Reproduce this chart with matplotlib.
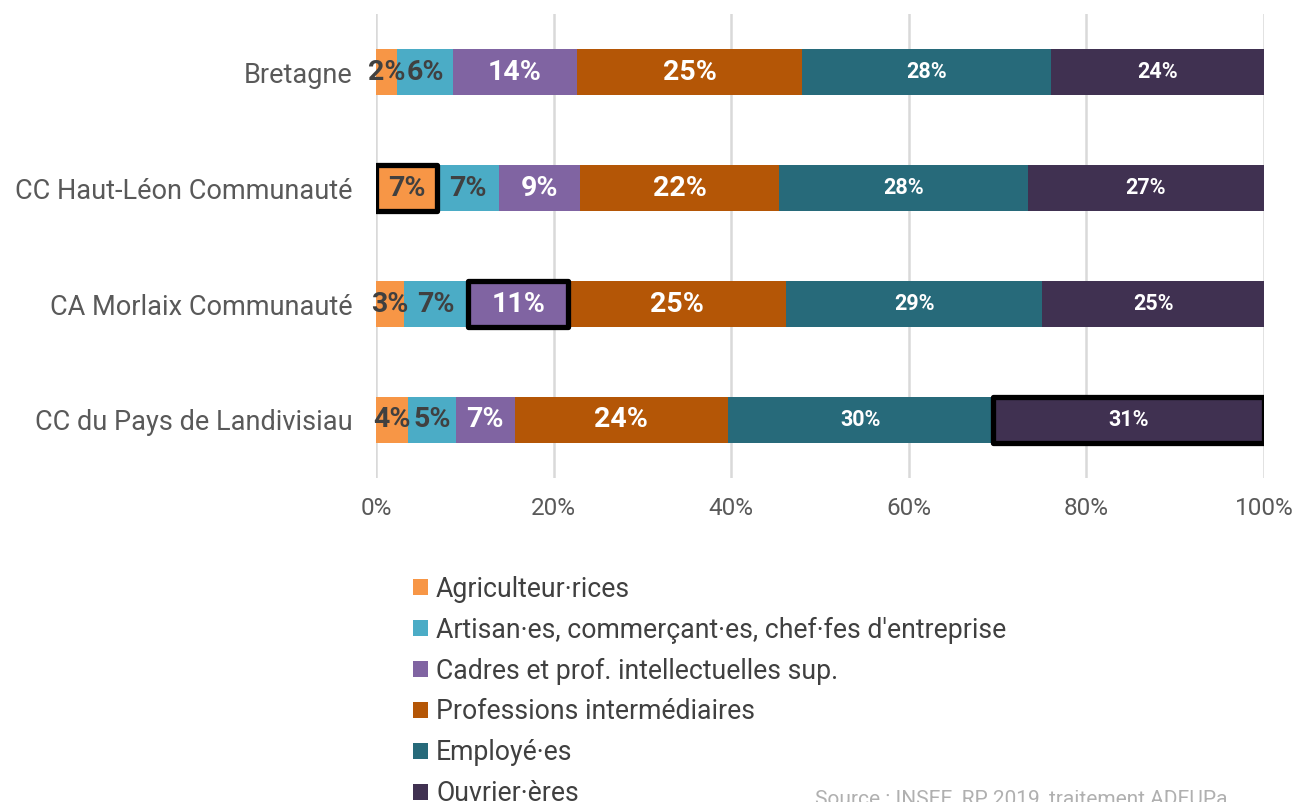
import matplotlib.pyplot as plt

plt.rcParams['font.family'] = ['Roboto', 'DejaVu Sans']

territoires = ['Bretagne', 'CC Haut-Léon Communauté', 'CA Morlaix Communauté',
               'CC du Pays de Landivisiau']
categories = ['Agriculteur·rices',
              'Artisan·es, commerçant·es, chef·fes d\'entreprise',
              'Cadres et prof. intellectuelles sup.',
              'Professions intermédiaires',
              'Employé·es',
              'Ouvrier·ères']
# parts en %, une liste par catégorie (ordre des territoires)
agriculteurs = [2.4, 6.9, 3.1, 3.6]
artisans = [6.3, 6.9, 7.3, 5.4]
cadres = [13.9, 9.2, 11.2, 6.6]
prof_inter = [25.4, 22.4, 24.6, 24.0]
employes = [28.0, 28.0, 28.8, 29.9]
ouvriers = [24.0, 26.6, 25.1, 30.51]
series = [agriculteurs, artisans, cadres, prof_inter, employes, ouvriers]

couleurs = ['#F79646', '#4BACC6', '#8064A2', '#B45606', '#276A7A', '#403151']
couleurs_texte = ['#404040', '#404040', 'white', 'white', 'white', 'white']
tailles_texte = [20.5, 20.5, 20.5, 20.5, 15.5, 15.5]
# segments encadrés (territoire, catégorie)
encadres = [(1, 0), (2, 2), (3, 5)]

fig = plt.figure(figsize=(12.97, 8.02), dpi=100)
ax = fig.add_axes([0.29, 0.404, 0.6846, 0.5785])

y = list(range(len(territoires)))
gauche = [0.0] * len(territoires)
for i, vals in enumerate(series):
    bars = ax.barh(y, vals, left=gauche, height=0.4, color=couleurs[i],
                   label=categories[i], zorder=2)
    for j, v in enumerate(vals):
        if (j, i) in encadres:
            bars[j].set_edgecolor('black')
            bars[j].set_linewidth(3.8)
            bars[j].set_joinstyle('round')
            bars[j].set_zorder(3)
        ax.text(gauche[j] + v / 2, j, f'{round(v)}%', ha='center', va='center',
                color=couleurs_texte[i], fontsize=tailles_texte[i],
                fontweight='bold', zorder=4)
    gauche = [g + v for g, v in zip(gauche, vals)]

ax.set_xlim(0, 100)
ax.set_ylim(3.5, -0.5)
ax.set_yticks(y)
ax.set_yticklabels(territoires, fontsize=19.5, color='#595959')
ax.set_xticks([0, 20, 40, 60, 80, 100])
ax.set_xticklabels(['0%', '20%', '40%', '60%', '80%', '100%'], fontsize=17.5,
                   color='#595959')
ax.tick_params(axis='y', length=0, pad=17)
ax.tick_params(axis='x', length=0, pad=14)
ax.grid(axis='x', color='#D9D9D9', linewidth=1.8, zorder=0)
for s in ax.spines.values():
    s.set_visible(False)

handles, labels = ax.get_legend_handles_labels()
fig.legend(handles, labels, loc='upper left', bbox_to_anchor=(0.3105, 0.2955),
           ncol=1, frameon=False, fontsize=19.2, labelcolor='#404040',
           handlelength=0.55, handleheight=0.55, handletextpad=0.3,
           labelspacing=0.52, borderaxespad=0)

fig.text(0.628, -0.009, 'Source : INSEE, RP 2019, traitement ADEUPa',
         fontsize=15, color='#B0B0B0', ha='left', va='bottom')

fig.savefig('out.png', dpi=100)
